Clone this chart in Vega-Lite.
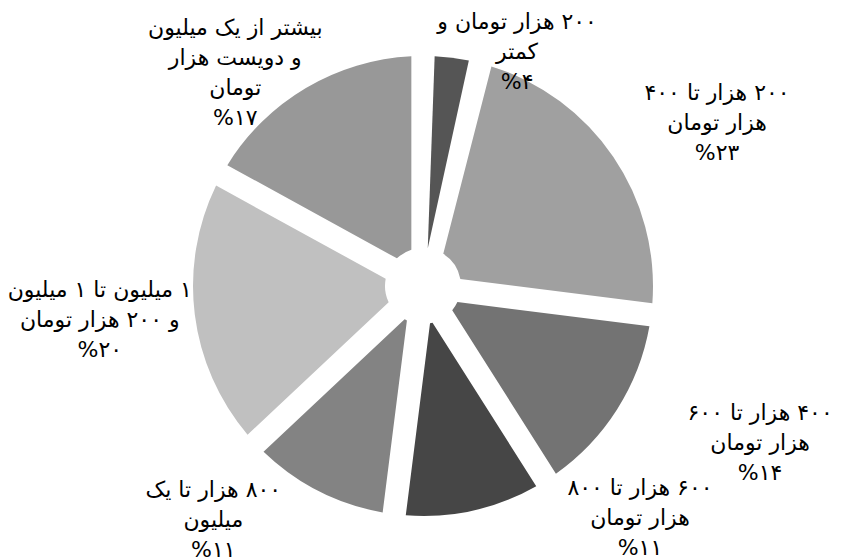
{
  "$schema": "https://vega.github.io/schema/vega-lite/v6.json",
  "autosize": {"type": "none"},
  "width": 846,
  "height": 544,
  "padding": {"top": 14, "left": 0, "right": 0, "bottom": 0},
  "background": "white",
  "config": {"view": {"stroke": null}},
  "data": {
    "values": [
      {"idx": 1, "category": "c1", "value": 4, "label": "\u200f۲۰۰ هزار تومان و\n\u200fکمتر\n%۴"},
      {"idx": 2, "category": "c2", "value": 23, "label": "\u200f۲۰۰ هزار تا ۴۰۰\n\u200fهزار تومان\n%۲۳"},
      {"idx": 3, "category": "c3", "value": 14, "label": "\u200f۴۰۰ هزار تا ۶۰۰\n\u200fهزار تومان\n%۱۴"},
      {"idx": 4, "category": "c4", "value": 11, "label": "\u200f۶۰۰ هزار تا ۸۰۰\n\u200fهزار تومان\n%۱۱"},
      {"idx": 5, "category": "c5", "value": 11, "label": "\u200f۸۰۰ هزار تا یک\n\u200fمیلیون\n%۱۱"},
      {"idx": 6, "category": "c6", "value": 20, "label": "\u200f۱ میلیون تا ۱ میلیون\n\u200fو ۲۰۰ هزار تومان\n%۲۰"},
      {"idx": 7, "category": "c7", "value": 17, "label": "\u200fبیشتر از یک میلیون\n\u200fو دویست هزار\n\u200fتومان\n%۱۷"}
    ]
  },
  "encoding": {
    "theta": {"field": "value", "type": "quantitative", "stack": true},
    "order": {"field": "idx", "type": "quantitative"}
  },
  "layer": [
    {
      "mark": {"type": "arc", "outerRadius": 230, "innerRadius": 38, "padAngle": 0.1},
      "encoding": {
        "color": {
          "field": "category",
          "type": "nominal",
          "scale": {
            "domain": ["c1", "c2", "c3", "c4", "c5", "c6", "c7"],
            "range": ["#555555", "#a0a0a0", "#737373", "#464646", "#838383", "#c0c0c0", "#989898"]
          },
          "legend": null
        }
      }
    },
    {
      "mark": {"type": "text", "radius": 252, "thetaOffset": 0.257, "dy": -30, "font": "DejaVu Sans", "fontSize": 22, "lineHeight": 30, "lineBreak": "\n", "align": "center", "baseline": "middle", "color": "#000000"},
      "encoding": {"text": {"condition": {"test": "datum.category === 'c1'", "field": "label"}, "value": ""}}
    },
    {
      "mark": {"type": "text", "radius": 336, "thetaOffset": 0.092, "dy": -30, "font": "DejaVu Sans", "fontSize": 22, "lineHeight": 30, "lineBreak": "\n", "align": "center", "baseline": "middle", "color": "#000000"},
      "encoding": {"text": {"condition": {"test": "datum.category === 'c2'", "field": "label"}, "value": ""}}
    },
    {
      "mark": {"type": "text", "radius": 372, "thetaOffset": -0.129, "dy": -30, "font": "DejaVu Sans", "fontSize": 22, "lineHeight": 30, "lineBreak": "\n", "align": "center", "baseline": "middle", "color": "#000000"},
      "encoding": {"text": {"condition": {"test": "datum.category === 'c3'", "field": "label"}, "value": ""}}
    },
    {
      "mark": {"type": "text", "radius": 318, "thetaOffset": -0.531, "dy": -30, "font": "DejaVu Sans", "fontSize": 22, "lineHeight": 30, "lineBreak": "\n", "align": "center", "baseline": "middle", "color": "#000000"},
      "encoding": {"text": {"condition": {"test": "datum.category === 'c4'", "field": "label"}, "value": ""}}
    },
    {
      "mark": {"type": "text", "radius": 314, "thetaOffset": 0.26, "dy": -30, "font": "DejaVu Sans", "fontSize": 22, "lineHeight": 30, "lineBreak": "\n", "align": "center", "baseline": "middle", "color": "#000000"},
      "encoding": {"text": {"condition": {"test": "datum.category === 'c5'", "field": "label"}, "value": ""}}
    },
    {
      "mark": {"type": "text", "radius": 325, "thetaOffset": 0.021, "dy": -30, "font": "DejaVu Sans", "fontSize": 22, "lineHeight": 30, "lineBreak": "\n", "align": "center", "baseline": "middle", "color": "#000000"},
      "encoding": {"text": {"condition": {"test": "datum.category === 'c6'", "field": "label"}, "value": ""}}
    },
    {
      "mark": {"type": "text", "radius": 284, "thetaOffset": -0.188, "dy": -45, "font": "DejaVu Sans", "fontSize": 22, "lineHeight": 30, "lineBreak": "\n", "align": "center", "baseline": "middle", "color": "#000000"},
      "encoding": {"text": {"condition": {"test": "datum.category === 'c7'", "field": "label"}, "value": ""}}
    }
  ]
}
